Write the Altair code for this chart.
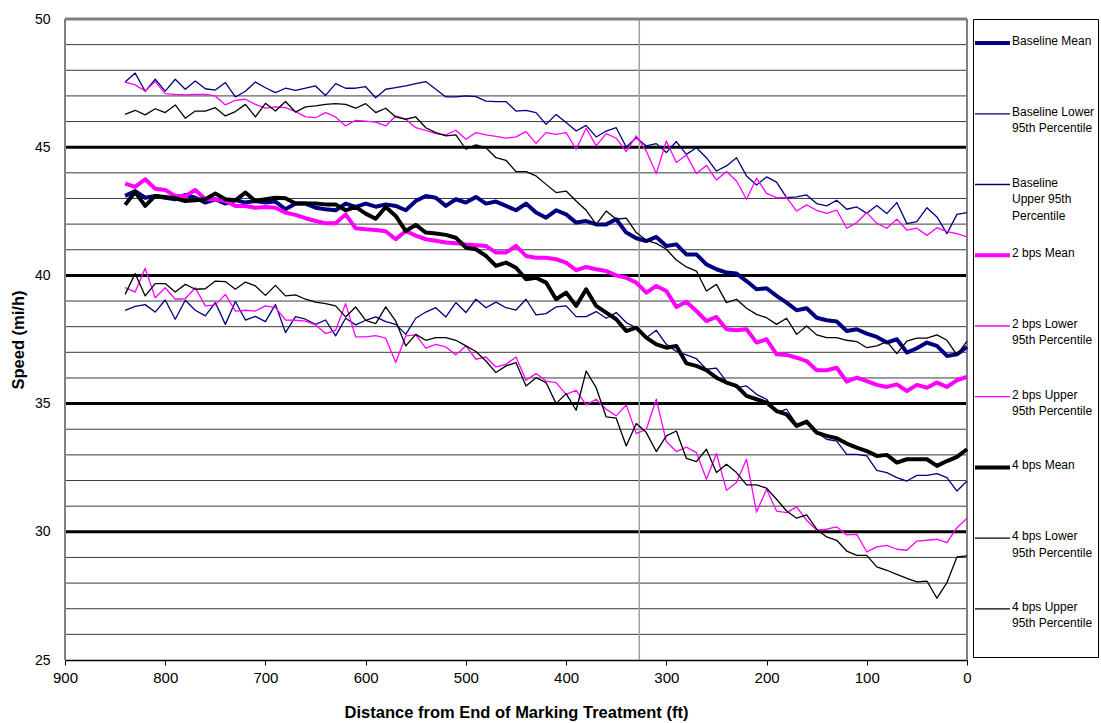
import altair as alt
import pandas as pd

# ---------------- data ----------------
distance = [840, 830, 820, 810, 800, 790, 780, 770, 760, 750,
            740, 730, 720, 710, 700, 690, 680, 670, 660, 650,
            640, 630, 620, 610, 600, 590, 580, 570, 560, 550,
            540, 530, 520, 510, 500, 490, 480, 470, 460, 450,
            440, 430, 420, 410, 400, 390, 380, 370, 360, 350,
            340, 330, 320, 310, 300, 290, 280, 270, 260, 250,
            240, 230, 220, 210, 200, 190, 180, 170, 160, 150,
            140, 130, 120, 110, 100, 90, 80, 70, 60, 50,
            40, 30, 20, 10, 0]

baseline_mean = [43.10, 43.29, 43.03, 43.10, 43.03, 42.97, 43.14, 43.03, 42.84, 42.97,
                 42.80, 42.94, 42.84, 42.90, 42.84, 42.88, 42.58, 42.80, 42.80, 42.64,
                 42.58, 42.54, 42.80, 42.67, 42.80, 42.68, 42.77, 42.71, 42.54, 42.90,
                 43.10, 43.03, 42.71, 42.97, 42.84, 43.06, 42.80, 42.88, 42.71, 42.54,
                 42.80, 42.45, 42.25, 42.54, 42.38, 42.06, 42.12, 41.99, 41.99, 42.19,
                 41.67, 41.45, 41.34, 41.50, 41.15, 41.21, 40.82, 40.82, 40.43, 40.24,
                 40.11, 40.07, 39.78, 39.46, 39.50, 39.20, 38.94, 38.64, 38.72, 38.35,
                 38.25, 38.20, 37.83, 37.90, 37.73, 37.60, 37.38, 37.51, 36.99, 37.16,
                 37.38, 37.25, 36.86, 36.92, 37.21]

baseline_lower = [38.64, 38.79, 38.86, 38.57, 39.04, 38.29, 39.03, 38.64, 38.42, 38.94,
                  38.09, 38.98, 38.26, 38.40, 38.20, 38.87, 37.77, 38.39, 38.29, 38.09,
                  38.26, 37.64, 38.33, 38.07, 38.25, 38.38, 38.20, 38.09, 37.70, 38.33,
                  38.57, 38.74, 38.38, 38.94, 38.55, 39.07, 38.74, 38.96, 38.74, 38.65,
                  39.07, 38.46, 38.51, 38.77, 38.81, 38.39, 38.39, 38.59, 38.33, 38.55,
                  38.16, 37.96, 37.57, 37.86, 37.31, 37.03, 36.90, 36.75, 36.34, 36.38,
                  35.86, 35.62, 35.69, 35.36, 35.17, 34.65, 34.78, 34.19, 34.32, 33.87,
                  33.61, 33.54, 33.02, 33.02, 32.96, 32.40, 32.31, 32.11, 31.98, 32.20,
                  32.20, 32.27, 32.11, 31.59, 31.98]

baseline_upper = [47.54, 47.89, 47.18, 47.65, 47.19, 47.65, 47.26, 47.58, 47.28, 47.23,
                  47.52, 46.96, 47.18, 47.54, 47.32, 47.13, 47.30, 47.22, 47.30, 47.39,
                  47.02, 47.48, 47.30, 47.30, 47.36, 46.93, 47.26, 47.32, 47.39, 47.48,
                  47.56, 47.26, 46.96, 46.96, 47.00, 46.97, 46.80, 46.78, 46.78, 46.41,
                  46.44, 46.35, 45.89, 46.28, 45.96, 45.63, 45.85, 45.40, 45.63, 45.76,
                  45.01, 45.37, 45.05, 45.14, 44.79, 45.22, 44.72, 44.98, 44.59, 44.07,
                  44.27, 44.59, 43.88, 43.53, 43.84, 43.64, 43.03, 43.06, 43.14, 42.80,
                  42.71, 42.93, 42.58, 42.67, 42.42, 42.73, 42.41, 42.84, 42.02, 42.10,
                  42.64, 42.28, 41.63, 42.38, 42.45]

bps2_mean = [43.58, 43.45, 43.75, 43.38, 43.33, 43.10, 43.10, 43.33, 42.97, 42.97,
             42.90, 42.71, 42.71, 42.64, 42.67, 42.64, 42.45, 42.36, 42.23, 42.12,
             42.03, 42.03, 42.38, 41.84, 41.80, 41.77, 41.72, 41.41, 41.73, 41.55,
             41.41, 41.35, 41.28, 41.25, 41.21, 41.18, 41.15, 40.89, 40.89, 41.15,
             40.76, 40.69, 40.69, 40.63, 40.50, 40.20, 40.33, 40.24, 40.17, 40.00,
             39.91, 39.72, 39.33, 39.59, 39.39, 38.77, 38.97, 38.61, 38.22, 38.38,
             37.90, 37.86, 37.90, 37.38, 37.51, 36.92, 36.90, 36.79, 36.66, 36.30,
             36.30, 36.40, 35.86, 36.01, 35.88, 35.73, 35.65, 35.75, 35.49, 35.73,
             35.62, 35.82, 35.65, 35.91, 36.04]

bps2_lower = [39.52, 39.35, 40.28, 39.13, 39.52, 39.07, 39.09, 39.52, 38.81, 38.85,
              39.26, 38.61, 38.64, 38.61, 38.81, 38.74, 38.26, 38.25, 38.22, 38.07,
              37.73, 37.86, 38.90, 37.60, 37.60, 37.65, 37.55, 36.60, 37.64, 37.68,
              37.16, 37.31, 37.21, 36.90, 37.25, 36.73, 36.82, 36.43, 36.53, 36.82,
              35.91, 36.17, 35.88, 35.82, 35.36, 35.52, 34.95, 35.17, 34.78, 34.52,
              34.95, 33.83, 34.00, 35.17, 33.52, 33.13, 33.30, 33.09, 32.05, 33.05,
              31.62, 31.92, 32.83, 30.77, 31.66, 30.81, 30.75, 30.97, 30.45, 30.06,
              30.10, 30.19, 29.88, 29.90, 29.22, 29.41, 29.47, 29.32, 29.28, 29.64,
              29.67, 29.71, 29.58, 30.16, 30.53]

bps2_upper = [47.54, 47.43, 47.19, 47.56, 47.09, 47.06, 47.04, 47.06, 47.06, 47.00,
              46.65, 46.83, 46.87, 46.67, 46.52, 46.57, 46.54, 46.39, 46.18, 46.15,
              46.35, 46.18, 45.83, 46.05, 46.02, 45.98, 45.83, 46.22, 46.09, 45.76,
              45.66, 45.53, 45.48, 45.66, 45.31, 45.57, 45.48, 45.42, 45.35, 45.40,
              45.61, 45.15, 45.57, 45.50, 45.57, 44.92, 45.74, 45.05, 45.53, 45.35,
              44.83, 45.44, 44.85, 43.97, 45.24, 44.40, 44.70, 43.97, 44.29, 43.72,
              44.05, 43.68, 42.97, 43.79, 43.20, 43.03, 43.03, 42.51, 42.75, 42.54,
              42.42, 42.55, 41.84, 42.06, 42.45, 42.03, 41.84, 42.19, 41.77, 41.84,
              41.56, 41.86, 41.71, 41.63, 41.50]

bps4_mean = [42.75, 43.25, 42.71, 43.10, 43.06, 43.01, 42.90, 42.93, 42.97, 43.19,
             42.97, 42.93, 43.23, 42.90, 42.97, 43.03, 43.01, 42.80, 42.80, 42.80,
             42.77, 42.77, 42.54, 42.67, 42.41, 42.21, 42.67, 42.32, 41.73, 41.97,
             41.67, 41.63, 41.58, 41.47, 41.08, 41.02, 40.76, 40.37, 40.50, 40.30,
             39.85, 39.91, 39.72, 39.07, 39.33, 38.81, 39.46, 38.81, 38.55, 38.29,
             37.83, 37.96, 37.57, 37.31, 37.18, 37.25, 36.57, 36.47, 36.30, 36.01,
             35.82, 35.69, 35.30, 35.17, 35.04, 34.71, 34.58, 34.13, 34.30, 33.87,
             33.74, 33.65, 33.44, 33.28, 33.15, 32.96, 33.00, 32.70, 32.83, 32.83,
             32.83, 32.57, 32.76, 32.92, 33.22]

bps4_lower = [39.26, 40.07, 39.20, 39.68, 39.68, 39.35, 39.65, 39.46, 39.48, 39.78,
              39.76, 39.46, 39.74, 39.59, 39.22, 39.61, 39.20, 39.24, 39.07, 38.96,
              38.90, 38.81, 38.38, 38.77, 38.25, 38.12, 38.77, 38.22, 37.25, 37.70,
              37.47, 37.57, 37.57, 37.47, 37.25, 37.03, 36.66, 36.21, 36.47, 36.60,
              35.69, 36.01, 35.82, 35.00, 35.39, 34.74, 36.27, 35.62, 34.48, 34.43,
              33.35, 34.22, 33.87, 33.13, 33.74, 33.93, 32.86, 32.74, 33.22, 32.31,
              32.63, 32.31, 31.83, 31.83, 31.70, 31.27, 30.81, 30.53, 30.66, 30.10,
              29.80, 29.67, 29.25, 29.08, 29.08, 28.63, 28.50, 28.34, 28.18, 28.05,
              28.08, 27.41, 28.02, 29.02, 29.06]

bps4_upper = [46.28, 46.44, 46.26, 46.50, 46.35, 46.65, 46.13, 46.41, 46.41, 46.54,
              46.22, 46.39, 46.67, 46.18, 46.71, 46.41, 46.78, 46.37, 46.57, 46.61,
              46.67, 46.70, 46.67, 46.52, 46.70, 46.35, 46.52, 46.18, 46.09, 46.18,
              45.76, 45.57, 45.44, 45.48, 44.92, 45.09, 44.98, 44.59, 44.49, 44.05,
              44.05, 43.88, 43.55, 43.23, 43.29, 42.90, 42.54, 41.99, 42.51, 42.19,
              42.23, 41.67, 41.37, 41.25, 41.02, 40.60, 40.33, 40.17, 39.39, 39.65,
              38.94, 39.07, 38.72, 38.48, 38.35, 38.09, 38.33, 37.70, 38.03, 37.68,
              37.57, 37.57, 37.47, 37.42, 37.18, 37.25, 37.42, 36.95, 37.44, 37.55,
              37.55, 37.68, 37.47, 36.90, 37.44]

series_names = ["Baseline Mean", "Baseline Lower 95th Percentile", "Baseline Upper 95th Percentile",
                "2 bps Mean", "2 bps Lower 95th Percentile", "2 bps Upper 95th Percentile",
                "4 bps Mean", "4 bps Lower 95th Percentile", "4 bps Upper 95th Percentile"]
series_values = [baseline_mean, baseline_lower, baseline_upper,
                 bps2_mean, bps2_lower, bps2_upper,
                 bps4_mean, bps4_lower, bps4_upper]
series_kind = ["mean", "pct", "pct", "mean", "pct", "pct", "mean", "pct", "pct"]
legend_labels = ["Baseline Mean", "Baseline Lower\n95th Percentile", "Baseline\nUpper 95th\nPercentile",
                 "2 bps Mean", "2 bps Lower\n95th Percentile", "2 bps Upper\n95th Percentile",
                 "4 bps Mean", "4 bps Lower\n95th Percentile", "4 bps Upper\n95th Percentile"]
legend_slot = [0, 1, 2, 3, 4, 5, 6, 7, 8]

x_ticks = [900, 800, 700, 600, 500, 400, 300, 200, 100, 0]
y_ticks = [25, 30, 35, 40, 45, 50]
major_grid = [30, 35, 40, 45]
minor_grid = [26, 27, 28, 29, 31, 32, 33, 34, 36, 37, 38, 39, 41, 42, 43, 44, 46, 47, 48, 49]
top_edge = [50]
side_edges = [900, 0]
marker_distance = [327]

# ---------------- styles ----------------
NAVY, MAG, BLK = "#000080", "#FF00FF", "#000000"
series_colors = [NAVY, NAVY, NAVY, MAG, MAG, MAG, BLK, BLK, BLK]
FONT = "Liberation Sans"

for v in series_values:
    assert len(v) == len(distance)

rows = []
for name, kind, vals in zip(series_names, series_kind, series_values):
    for d, s in zip(distance, vals):
        rows.append({"series": name, "kind": kind, "distance": d, "speed": s})
df = pd.DataFrame(rows)

x_scale = alt.Scale(domain=[0, 900], reverse=True, nice=False, zero=False)
y_scale = alt.Scale(domain=[25, 50], nice=False, zero=False)
color_scale = alt.Scale(domain=series_names, range=series_colors)
width_scale = alt.Scale(type="ordinal", domain=["mean", "pct"], range=[4, 1.3])

x_axis = alt.Axis(values=x_ticks, title="Distance from End of Marking Treatment (ft)",
                  grid=False, tickSize=5, tickColor="#000", domainColor="#000", domainWidth=1.5,
                  labelFontSize=15, labelFont=FONT, labelColor="#000", labelPadding=5,
                  labelFlush=False, labelOverlap=False,
                  titleFont=FONT, titleFontSize=16.5, titleFontWeight="bold", titleColor="#000",
                  titlePadding=19)
y_axis = alt.Axis(values=y_ticks, title="Speed (mi/h)", grid=False, tickSize=0,
                  domain=False, labelFontSize=14, labelFont=FONT, labelColor="#000",
                  labelPadding=15, titleFont=FONT, titleFontSize=16.5, titleFontWeight="bold",
                  titleColor="#000", titlePadding=8)

minor = alt.Chart(pd.DataFrame({"speed": minor_grid})).mark_rule(color="#3a3a3a", strokeWidth=1).encode(
    y=alt.Y("speed:Q", scale=y_scale, axis=y_axis))
major = alt.Chart(pd.DataFrame({"speed": major_grid})).mark_rule(color="#000000", strokeWidth=3).encode(
    y=alt.Y("speed:Q", scale=y_scale, axis=y_axis))
top_border = alt.Chart(pd.DataFrame({"speed": top_edge})).mark_rule(color="#808080", strokeWidth=3).encode(
    y=alt.Y("speed:Q", scale=y_scale, axis=y_axis))
side_borders = alt.Chart(pd.DataFrame({"distance": side_edges})).mark_rule(color="#808080", strokeWidth=2).encode(
    x=alt.X("distance:Q", scale=x_scale, axis=x_axis))
marker = alt.Chart(pd.DataFrame({"distance": marker_distance})).mark_rule(color="#a0a0a0", strokeWidth=1.5).encode(
    x=alt.X("distance:Q", scale=x_scale, axis=x_axis))

lines = alt.Chart(df).mark_line(strokeJoin="round").encode(
    x=alt.X("distance:Q", scale=x_scale, axis=x_axis),
    y=alt.Y("speed:Q", scale=y_scale, axis=y_axis),
    color=alt.Color("series:N", scale=color_scale, legend=None),
    strokeWidth=alt.StrokeWidth("kind:N", scale=width_scale, legend=None),
    detail="series:N",
)

main = alt.layer(minor, major, marker, top_border, side_borders, lines).properties(
    width=902, height=641, view=alt.ViewBackground(stroke="transparent"))

leg_df = pd.DataFrame({"series": series_names, "kind": series_kind,
                       "label": legend_labels, "slot": legend_slot})
slot_scale = alt.Scale(domain=[-0.34, 8.68], reverse=True, nice=False, zero=False)
leg_lines = alt.Chart(leg_df).mark_rule().encode(
    x=alt.value(2), x2=alt.value(37),
    y=alt.Y("slot:Q", scale=slot_scale, axis=None),
    color=alt.Color("series:N", scale=color_scale, legend=None),
    strokeWidth=alt.StrokeWidth("kind:N", scale=width_scale, legend=None),
)
leg_text = alt.Chart(leg_df).mark_text(align="left", baseline="top", dy=-7, lineBreak="\n",
                                       lineHeight=16.5, fontSize=12, font=FONT, color="#000").encode(
    x=alt.value(39),
    y=alt.Y("slot:Q", scale=slot_scale, axis=None),
    text="label:N",
)
legend = alt.layer(leg_lines, leg_text).properties(
    width=125, height=638, view=alt.ViewBackground(stroke="#000", strokeWidth=1))

chart = alt.hconcat(main, legend, spacing=6, bounds="flush").properties(
    padding={"left": 9, "top": 11, "right": 2, "bottom": 5},
    background="white",
)

chart.save("out.html", embed_options={"renderer": "svg", "actions": False})
